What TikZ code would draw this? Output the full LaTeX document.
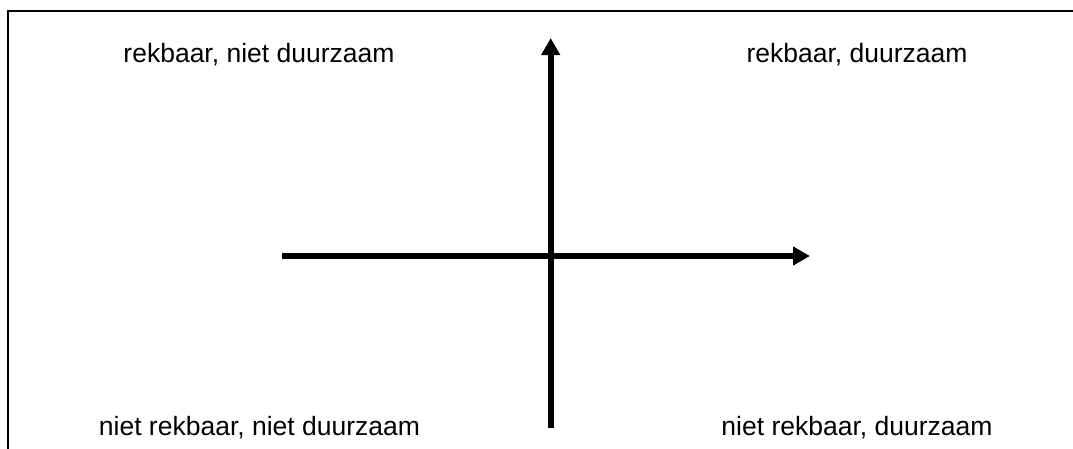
\documentclass[tikz,border=0pt]{standalone}
\usepackage{fontspec}
\setmainfont{Liberation Sans}
\usetikzlibrary{arrows.meta}
\begin{document}
\begin{tikzpicture}[x=1pt,y=-1pt,
  frame/.style={line width=2.4pt,line cap=rect},
  axis/.style={line width=5.8pt,-{Triangle[length=17pt,width=18pt]}},
  axisplain/.style={line width=5.8pt},
  lbl/.style={anchor=base,inner sep=0pt,font=\fontsize{26.5}{30}\selectfont}]
\useasboundingbox (0,0) rectangle (1073,448);
\draw[frame] (8,448) -- (8,11) -- (1073,11);
\coordinate (vbot) at (550.7,428);
\coordinate (vtop) at (550.7,38);
\coordinate (hl) at (282,256);
\coordinate (hr) at (810,256);
\draw[axis] (vbot) -- (vtop);
\draw[axis] (hl) -- (hr);
\node[lbl] (tl) at (259,62) {rekbaar, niet duurzaam};
\node[lbl] (tr) at (857,62) {rekbaar, duurzaam};
\node[lbl] (bl) at (259.5,435) {niet rekbaar, niet duurzaam};
\node[lbl] (br) at (857,435) {niet rekbaar, duurzaam};
\end{tikzpicture}
\end{document}
